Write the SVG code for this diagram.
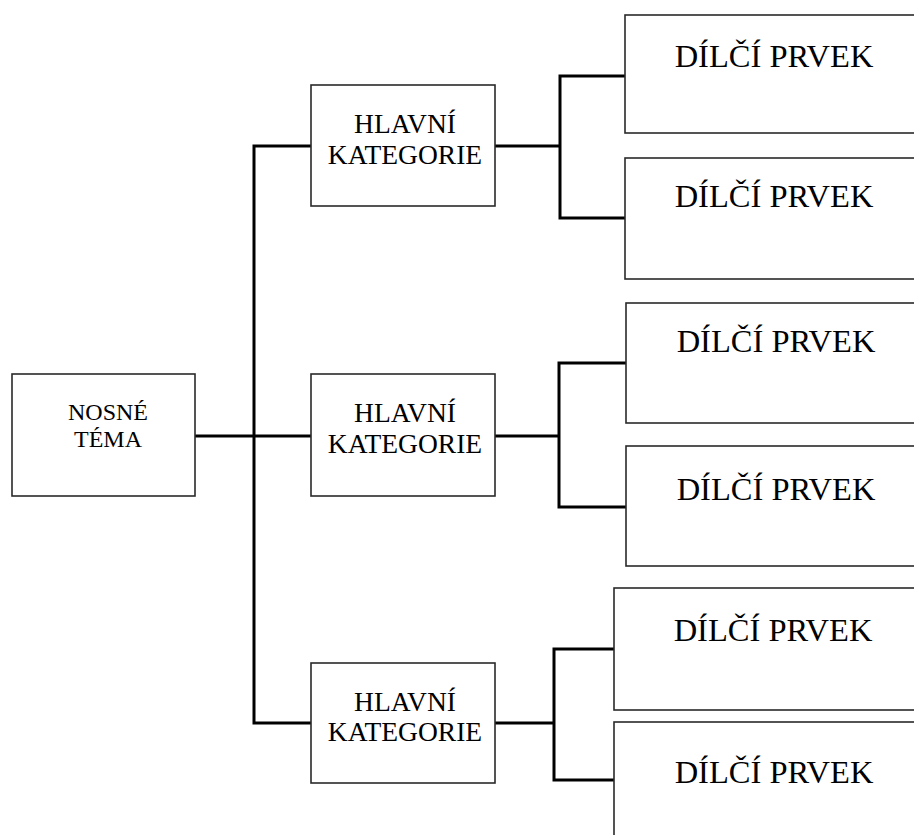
<svg xmlns="http://www.w3.org/2000/svg" width="914" height="835" viewBox="0 0 914 835">
<style>
.box{fill:#fff;stroke:#2a2a2a;stroke-width:1.6}
.con{fill:none;stroke:#000;stroke-width:3}
.t{font-family:'Liberation Serif','Times New Roman',Tinos,'DejaVu Serif',serif;fill:#000;text-anchor:middle}
.r{font-size:24px}
.s{font-size:27.5px}
.l{font-size:32.5px}
</style>
<rect width="914" height="835" fill="#fff"/>
<g id="connectors">
<path class="con" d="M195,436 H311"/>
<path class="con" d="M311,146 H254 V723 H311"/>
<path class="con" d="M495,146 H560 M626,76 H560 V218 H626"/>
<path class="con" d="M495,436 H559 M626,363 H559 V507 H626"/>
<path class="con" d="M495,723 H554 M614,649 H554 V780 H614"/>
</g>
<g id="root">
<rect class="box" x="12" y="374" width="183" height="122"/>
<text class="t r" x="108" y="420">NOSNÉ</text>
<text class="t r" x="108" y="447">TÉMA</text>
</g>
<g id="cat1">
<rect class="box" x="311" y="85" width="184" height="121"/>
<text class="t s" x="405" y="133">HLAVNÍ</text>
<text class="t s" x="405" y="164">KATEGORIE</text>
</g>
<g id="cat2">
<rect class="box" x="311" y="374" width="184" height="122"/>
<text class="t s" x="405" y="422">HLAVNÍ</text>
<text class="t s" x="405" y="453">KATEGORIE</text>
</g>
<g id="cat3">
<rect class="box" x="311" y="663" width="184" height="120"/>
<text class="t s" x="405" y="711">HLAVNÍ</text>
<text class="t s" x="405" y="741">KATEGORIE</text>
</g>
<g id="item1">
<rect class="box" x="625" y="15" width="300" height="118"/>
<text class="t l" x="774" y="67">DÍLČÍ PRVEK</text>
</g>
<g id="item2">
<rect class="box" x="625" y="158" width="300" height="121"/>
<text class="t l" x="774" y="207">DÍLČÍ PRVEK</text>
</g>
<g id="item3">
<rect class="box" x="626" y="303" width="300" height="120"/>
<text class="t l" x="776" y="352">DÍLČÍ PRVEK</text>
</g>
<g id="item4">
<rect class="box" x="626" y="446" width="300" height="120"/>
<text class="t l" x="776" y="500">DÍLČÍ PRVEK</text>
</g>
<g id="item5">
<rect class="box" x="614" y="588" width="310" height="122"/>
<text class="t l" x="773" y="641">DÍLČÍ PRVEK</text>
</g>
<g id="item6">
<rect class="box" x="614" y="722" width="310" height="130"/>
<text class="t l" x="774" y="783">DÍLČÍ PRVEK</text>
</g>
</svg>
